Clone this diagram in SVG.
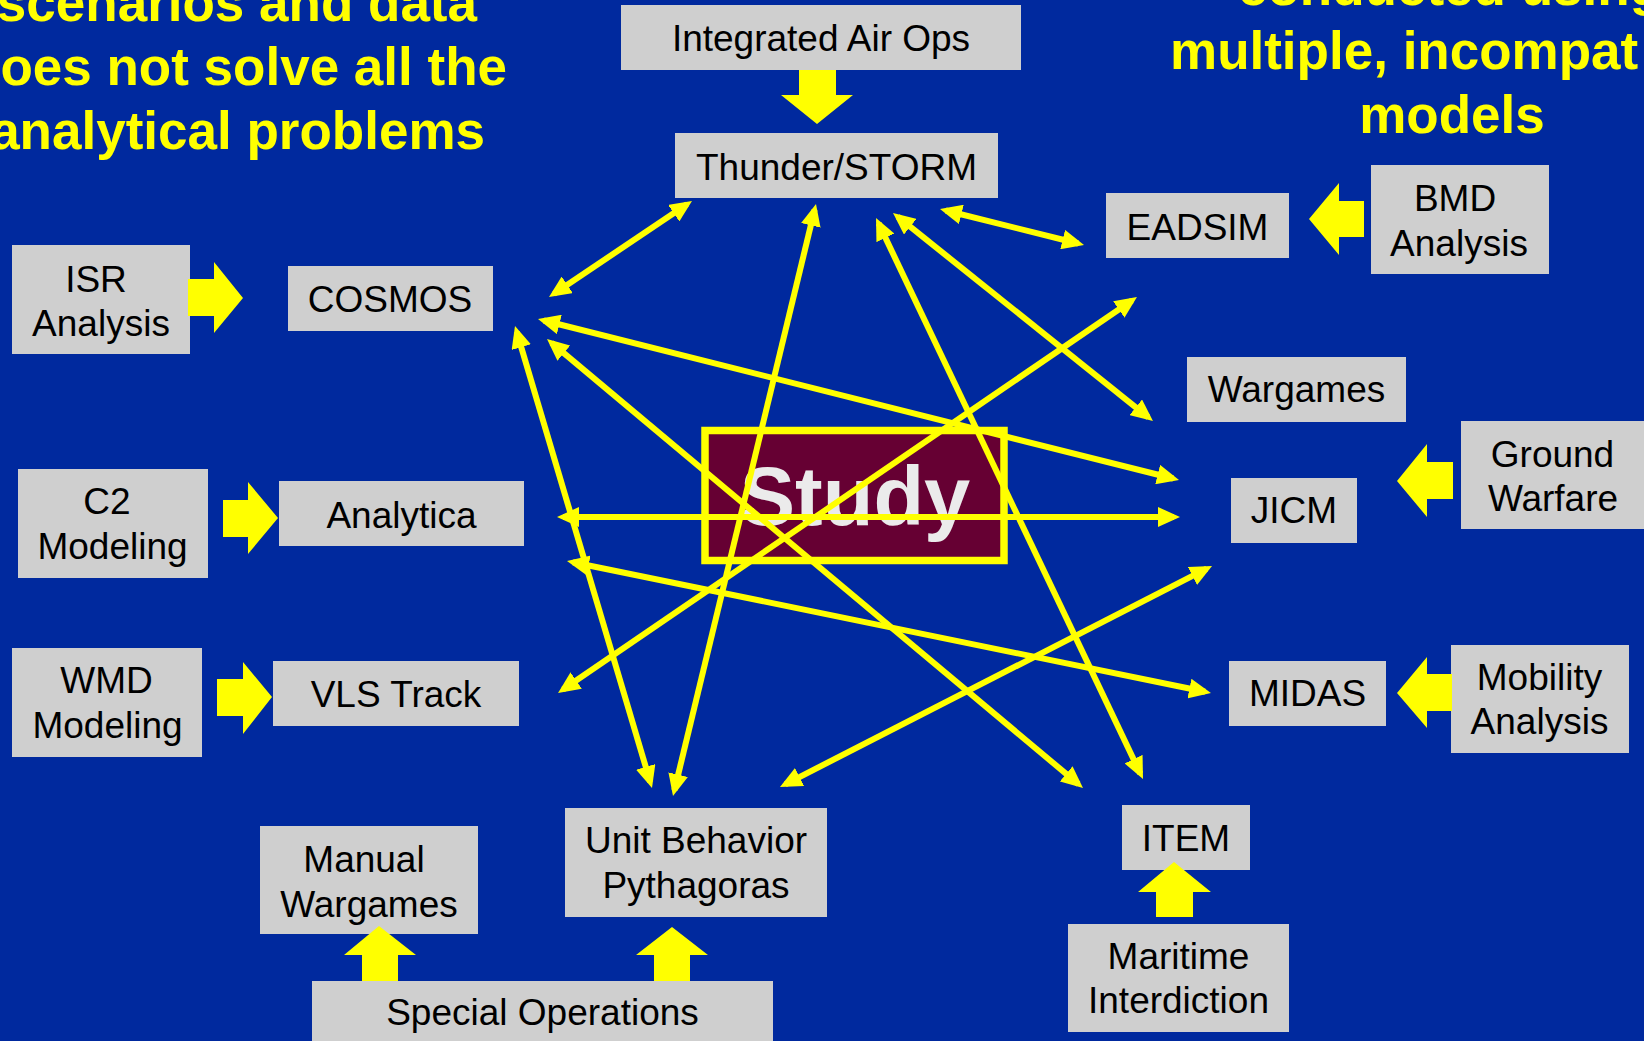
<svg xmlns="http://www.w3.org/2000/svg" width="1644" height="1041" viewBox="0 0 1644 1041">
<defs>
<style>
.bg{fill:#00299e}
.title{font-family:"Liberation Sans",Arial,sans-serif;font-weight:bold;font-size:53px;fill:#ffff00}
.box{fill:#cfcfcf}
.lbl{font-family:"Liberation Sans",Arial,sans-serif;font-size:37px;fill:#000;text-anchor:middle}
.blk{fill:#ffff00}
.con{stroke:#ffff00;stroke-width:6;fill:none;marker-start:url(#ah);marker-end:url(#ah)}
</style>
<marker id="ah" viewBox="0 0 22 20" refX="16" refY="10" markerWidth="22" markerHeight="20" markerUnits="userSpaceOnUse" orient="auto-start-reverse">
<path d="M0,0 L22,10 L0,20 z" fill="#ffff00"/>
</marker>
</defs>
<rect class="bg" x="0" y="0" width="1644" height="1041"/>

<g id="title-left">
<text class="title" x="477" y="21" text-anchor="end">scenarios and data</text>
<text class="title" x="507" y="85" text-anchor="end">oes not solve all the</text>
<text class="title" x="485" y="149" text-anchor="end">analytical problems</text>
</g>
<g id="title-right">
<text class="title" x="1238" y="5">conducted using</text>
<text class="title" x="1170" y="69">multiple, incompat</text>
<text class="title" x="1452" y="133" text-anchor="middle">models</text>
</g>

<g id="node-integrated-air-ops"><rect class="box" x="621" y="5" width="400" height="65"/><text class="lbl" x="821" y="51">Integrated Air Ops</text></g>
<g id="node-thunder-storm"><rect class="box" x="675" y="133" width="323" height="65"/><text class="lbl" x="836.5" y="180">Thunder/STORM</text></g>
<g id="node-eadsim"><rect class="box" x="1106" y="193" width="183" height="65"/><text class="lbl" x="1197.5" y="240">EADSIM</text></g>
<g id="node-bmd-analysis"><rect class="box" x="1371" y="165" width="178" height="109"/><text class="lbl" x="1455" y="211">BMD</text><text class="lbl" x="1459" y="256">Analysis</text></g>
<g id="node-isr-analysis"><rect class="box" x="12" y="245" width="178" height="109"/><text class="lbl" x="96" y="292">ISR</text><text class="lbl" x="101" y="336">Analysis</text></g>
<g id="node-cosmos"><rect class="box" x="288" y="266" width="205" height="65"/><text class="lbl" x="390" y="312">COSMOS</text></g>
<g id="node-wargames"><rect class="box" x="1187" y="357" width="219" height="65"/><text class="lbl" x="1296.5" y="402">Wargames</text></g>
<g id="node-ground-warfare"><rect class="box" x="1461" y="421" width="190" height="108"/><text class="lbl" x="1552.5" y="467">Ground</text><text class="lbl" x="1553" y="511">Warfare</text></g>
<g id="node-jicm"><rect class="box" x="1231" y="478" width="126" height="65"/><text class="lbl" x="1294" y="523">JICM</text></g>
<g id="node-c2-modeling"><rect class="box" x="18" y="469" width="190" height="109"/><text class="lbl" x="107" y="514">C2</text><text class="lbl" x="112.5" y="559">Modeling</text></g>
<g id="node-analytica"><rect class="box" x="279" y="481" width="245" height="65"/><text class="lbl" x="401.5" y="528">Analytica</text></g>
<g id="node-study"><rect x="705" y="430.5" width="299" height="130" fill="#660033" stroke="#ffff00" stroke-width="7.5"/><text x="855" y="525" font-family="'Liberation Sans',Arial,sans-serif" font-weight="bold" font-size="83" fill="#ebebeb" text-anchor="middle">Study</text></g>
<g id="node-wmd-modeling"><rect class="box" x="12" y="648" width="190" height="109"/><text class="lbl" x="106.5" y="693">WMD</text><text class="lbl" x="107.5" y="738">Modeling</text></g>
<g id="node-vls-track"><rect class="box" x="273" y="661" width="246" height="65"/><text class="lbl" x="396" y="707">VLS Track</text></g>
<g id="node-midas"><rect class="box" x="1229" y="661" width="157" height="65"/><text class="lbl" x="1307.5" y="706">MIDAS</text></g>
<g id="node-mobility-analysis"><rect class="box" x="1451" y="645" width="178" height="108"/><text class="lbl" x="1539.5" y="690">Mobility</text><text class="lbl" x="1539.5" y="734">Analysis</text></g>
<g id="node-item"><rect class="box" x="1122" y="805" width="128" height="65"/><text class="lbl" x="1186" y="851">ITEM</text></g>
<g id="node-unit-behavior"><rect class="box" x="565" y="808" width="262" height="109"/><text class="lbl" x="696" y="853">Unit Behavior</text><text class="lbl" x="696" y="898">Pythagoras</text></g>
<g id="node-manual-wargames"><rect class="box" x="260" y="826" width="218" height="108"/><text class="lbl" x="364" y="872">Manual</text><text class="lbl" x="369" y="917">Wargames</text></g>
<g id="node-maritime-interdiction"><rect class="box" x="1068" y="924" width="221" height="108"/><text class="lbl" x="1178.5" y="969">Maritime</text><text class="lbl" x="1178.5" y="1013">Interdiction</text></g>
<g id="node-special-operations"><rect class="box" x="312" y="981" width="461" height="70"/><text class="lbl" x="542.5" y="1025">Special Operations</text></g>

<g id="connectors">
<polygon class="blk" points="799,70 836,70 836,95 853,95 817,124 781,95 799,95"/>
<polygon class="blk" points="188,279 214,279 214,262 243,298 214,333 214,316 188,316"/>
<polygon class="blk" points="223,500 248,500 248,482 278,518 248,554 248,537 223,537"/>
<polygon class="blk" points="217,679 243,679 243,662 272,697 243,734 243,716 217,716"/>
<polygon class="blk" points="1364,201 1339,201 1339,183 1309,219 1339,255 1339,237 1364,237"/>
<polygon class="blk" points="1453,462 1427,462 1427,444 1397,481 1427,517 1427,499 1453,499"/>
<polygon class="blk" points="1452,674 1427,674 1427,657 1397,693 1427,728 1427,711 1452,711"/>
<polygon class="blk" points="1156,917 1156,892 1138,892 1174,862 1211,892 1193,892 1193,917"/>
<polygon class="blk" points="362,981 362,955 344,955 379,926 416,955 398,955 398,981"/>
<polygon class="blk" points="654,981 654,955 636,955 672,927 708,955 690,955 690,981"/>

<line class="con" x1="687" y1="204.3" x2="554" y2="293.7"/>
<line class="con" x1="814.6" y1="209.8" x2="674.4" y2="790.2"/>
<line class="con" x1="516.7" y1="331.8" x2="650.3" y2="782.2"/>
<line class="con" x1="543.8" y1="320.5" x2="1173.2" y2="478.5"/>
<line class="con" x1="551.6" y1="342.9" x2="1078.4" y2="784.1"/>
<line class="con" x1="878.6" y1="223.4" x2="1140.4" y2="773.6"/>
<line class="con" x1="897.7" y1="216.7" x2="1148.3" y2="417.3"/>
<line class="con" x1="945.8" y1="210.5" x2="1078.2" y2="243.5"/>
<line class="con" x1="1132" y1="300.4" x2="563" y2="689.6"/>
<line class="con" x1="563" y1="517" x2="1174" y2="517"/>
<line class="con" x1="572.9" y1="562.2" x2="1205.1" y2="691.8"/>
<line class="con" x1="785.3" y1="784.3" x2="1206.7" y2="568.7"/>
</g>
</svg>
